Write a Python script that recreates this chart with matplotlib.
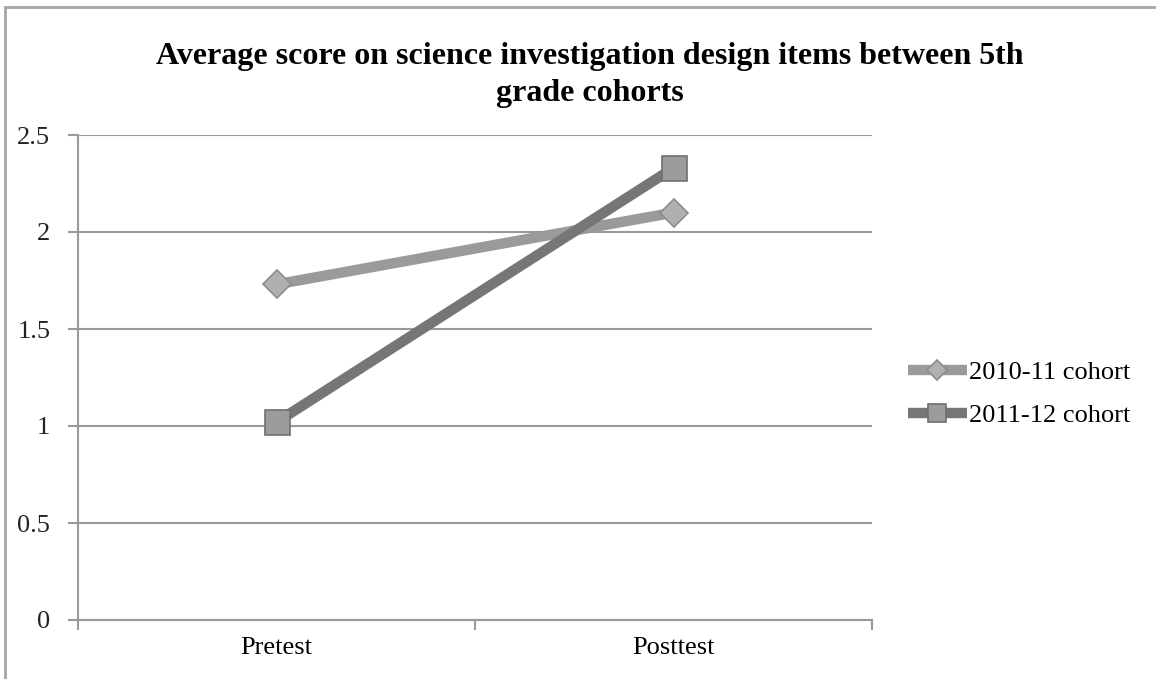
import numpy as np
import matplotlib
matplotlib.use("Agg")
import matplotlib.pyplot as plt
from matplotlib.patches import Rectangle

categories = ["Pretest", "Posttest"]
cohort_2010 = [1.73, 2.10]
cohort_2011 = [1.02, 2.33]
yticks = [0, 0.5, 1, 1.5, 2, 2.5]
ytick_labels = ["0", "0.5", "1", "1.5", "2", "2.5"]

plt.rcParams['font.family'] = ['Liberation Serif', 'DejaVu Serif']

fig = plt.figure(figsize=(11.56, 6.79), dpi=100)
ax = fig.add_axes([78/1156, 1 - 620/679, (872-78)/1156, (620-135)/679])

# outer chart border
fig.patches.append(Rectangle((5/1156, -0.05), 1.2, 1 - 7/679 + 0.05,
                             transform=fig.transFigure, fill=False,
                             edgecolor='#a6a6a6', linewidth=2))

x = np.arange(len(categories))
ax.plot(x, cohort_2010, color='#9a9a9a', linewidth=7.5, marker='D', markersize=14,
        markerfacecolor='#b0b0b0', markeredgecolor='#8c8c8c', markeredgewidth=1.2,
        solid_capstyle='butt', label='2010-11 cohort', zorder=3)
ax.plot(x, cohort_2011, color='#767676', linewidth=7.5, marker='s', markersize=18,
        markerfacecolor='#9c9c9c', markeredgecolor='#707070', markeredgewidth=1.2,
        solid_capstyle='butt', label='2011-12 cohort', zorder=4)

ax.set_xlim(-0.5, 1.5)
ax.set_ylim(0, 2.5)
ax.set_yticks(yticks)
ax.set_yticklabels(ytick_labels)
ax.set_xticks([-0.5, 0.5, 1.5])
ax.set_xticklabels([])
ax.set_xticks(x, minor=True)
ax.set_xticklabels(categories, minor=True)
ax.tick_params(axis='x', which='minor', length=0, pad=12, labelsize=19)
ax.tick_params(axis='x', which='major', length=7, color='#999999', width=1.5)
ax.tick_params(axis='y', length=7, color='#999999', width=1.5, pad=13, labelsize=19)
for lab in ax.get_yticklabels():
    lab.set_color('#222222')

ax.grid(axis='y', color='#999999', linewidth=1.5)
ax.set_axisbelow(True)
for s in ['top', 'right']:
    ax.spines[s].set_visible(False)
ax.spines['left'].set_color('#999999')
ax.spines['bottom'].set_color('#999999')
ax.spines['left'].set_linewidth(1.5)
ax.spines['bottom'].set_linewidth(1.5)

fig.text(590/1156, 1 - 75/679,
         "Average score on science investigation design items between 5th\ngrade cohorts",
         ha='center', va='center', fontsize=23, fontweight='bold', linespacing=1.35)

leg = ax.legend(loc='center left', bbox_to_anchor=(1.016, 0.466), frameon=False,
                fontsize=19, handlelength=2.2, handletextpad=0.1, labelspacing=0.75,
                markerscale=0.7)

fig.savefig("out.png", dpi=100)
